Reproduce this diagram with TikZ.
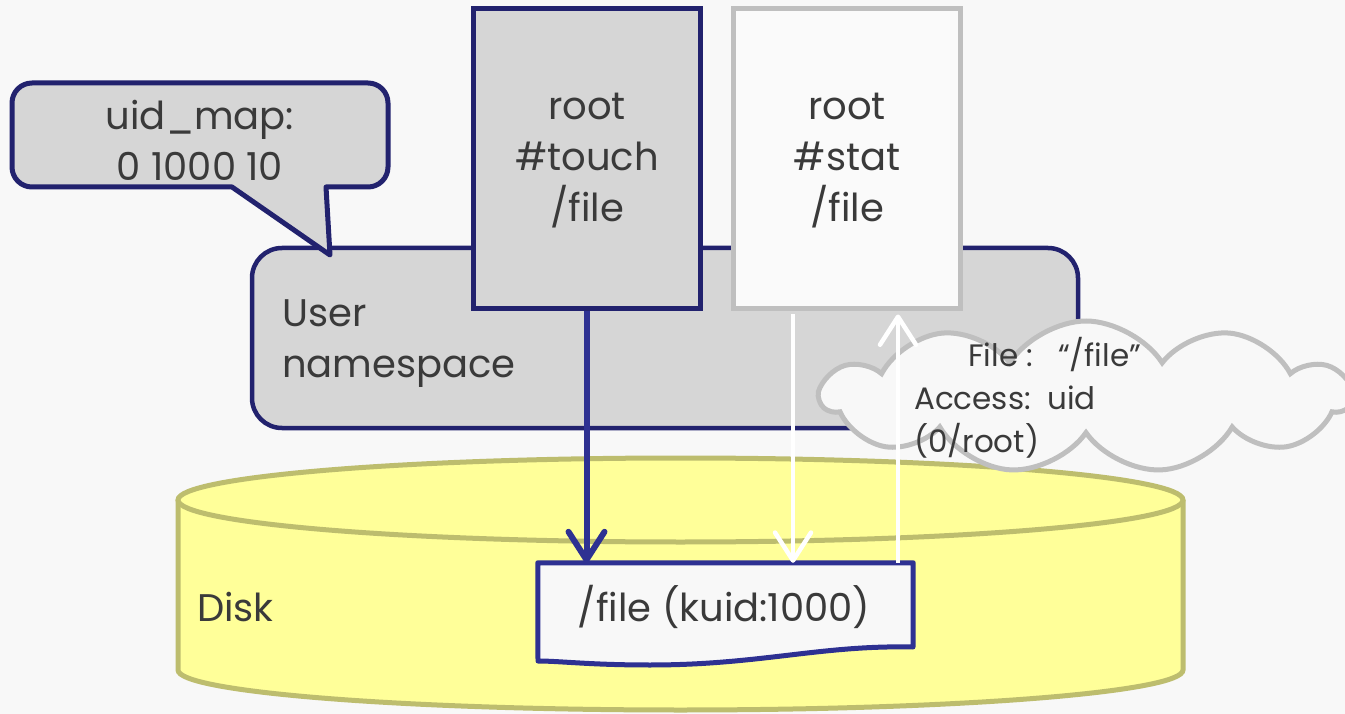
\documentclass[tikz,border=0pt]{standalone}
\usepackage{fontspec}
\setmainfont{Poppins}
\usetikzlibrary{arrows.meta,shapes.symbols}
\definecolor{bgc}{HTML}{F8F8F8}
\definecolor{boxgray}{HTML}{D6D6D6}
\definecolor{navyframe}{HTML}{22226E}
\definecolor{navyline}{HTML}{2E3192}
\definecolor{txt}{HTML}{3A3A3A}
\definecolor{diskfill}{HTML}{FFFF99}
\definecolor{diskline}{HTML}{BDBD6E}
\definecolor{lightline}{HTML}{BFBFBF}
\definecolor{statfill}{HTML}{FAFAFA}
\begin{document}
\begin{tikzpicture}[x=1pt,y=-1pt,
  txtstyle/.style={text=txt,font=\fontsize{38.5}{51}\selectfont,inner sep=0pt},
  smalltxt/.style={text=txt,font=\fontsize{31}{43}\selectfont,inner sep=0pt},
  procbox/.style={rectangle,line width=5pt,minimum width=227pt,minimum height=300pt,inner sep=0pt},
  navyarrow/.style={draw=navyline,line width=6pt,-{Straight Barb[length=28pt,width=36pt,round]}},
  whitearrow/.style={draw=white,line width=4.5pt,-{Straight Barb[length=28pt,width=36pt,round]}}]
\useasboundingbox (0,0) rectangle (1345,714);
\fill[bgc] (0,0) rectangle (1345,714);

% disk cylinder
\fill[diskfill] (178,500) rectangle (1183,670);
\fill[diskfill] (680.5,670) ellipse [x radius=502.5, y radius=40];
\draw[diskline,line width=5pt] (178,500) -- (178,670) arc[start angle=180,end angle=0,x radius=502.5,y radius=40] -- (1183,500);
\draw[diskline,line width=5pt,fill=diskfill] (680.5,500) ellipse [x radius=502.5, y radius=42];
\node[txtstyle,anchor=west] (disk) at (197,607) {Disk};

% user namespace
\draw[navyframe,fill=boxgray,line width=4.5pt,rounded corners=30pt] (252,248) rectangle (1078,428);
\node[txtstyle,anchor=west,align=left] (userns) at (282,344) {User\\namespace};

% callout
\draw[navyframe,fill=boxgray,line width=5pt,line join=round] (232,187) -- (330,255) -- (326,187) [rounded corners=20pt] -- (388,187) -- (388,83) -- (12,83) -- (12,187) [sharp corners] -- cycle;
\node[txtstyle,align=center] (uidmap) at (200,140) {uid\_map:\\0 1000 10};

% process boxes
\node[procbox,draw=navyframe,fill=boxgray] (touch) at (586.5,159) {};
\node[txtstyle,align=center] (touchtxt) at (587,161) {root\\\#touch\\/file};
\node[procbox,draw=lightline,fill=statfill] (stat) at (846.5,159) {};
\node[txtstyle,align=center] (stattxt) at (847,161) {root\\\#stat\\/file};

% cloud
\node[cloud,cloud puffs=11,cloud puff arc=115,aspect=3.6,draw=lightline,fill=bgc,line width=5pt,minimum width=530pt,minimum height=152pt,inner sep=0pt] (cloud) at (1086,397) {};
\node[smalltxt,anchor=west,align=left] (cloudtxt) at (914,398) {\hspace*{54pt}File :\ \ \ “/file”\\Access:\ \ uid\\(0/root)};

% file document
\node[rectangle,minimum width=375pt,minimum height=84pt,inner sep=0pt] (file) at (725.5,605) {};
\draw[navyline,fill=bgc,line width=5pt,line join=round] (file.north west) -- (file.north east) -- (913,647) .. controls (820,645) and (760,665) .. (650,665) .. controls (590,665) and (560,661) .. (538,661) -- cycle;
\node[txtstyle] (filetxt) at (724,607) {/file (kuid:1000)};

% arrows
\draw[navyarrow] (touch.south) -- (touch.south |- file.north);
\coordinate (downx) at (793,0);
\coordinate (upx) at (898,0);
\draw[whitearrow] (downx |- stat.south) ++(0,3) -- (downx |- file.north);
\draw[whitearrow] (upx |- file.north) -- ([yshift=-3pt]upx |- stat.south);
\end{tikzpicture}
\end{document}
